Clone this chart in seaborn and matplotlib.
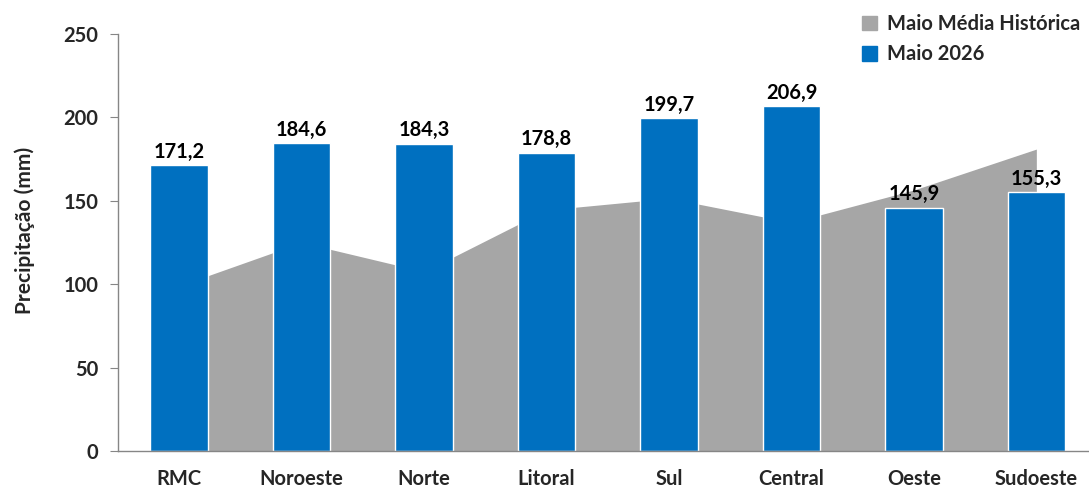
import numpy as np
import pandas as pd
import seaborn as sns
import matplotlib.pyplot as plt
from matplotlib.patches import Patch

# dados
regioes = ['RMC', 'Noroeste', 'Norte', 'Litoral', 'Sul', 'Central', 'Oeste', 'Sudoeste']
maio_2026 = [171.2, 184.6, 184.3, 178.8, 199.7, 206.9, 145.9, 155.3]
media_historica = [99, 125, 107.5, 144.5, 151.5, 137, 156.5, 181]
rotulos = ['171,2', '184,6', '184,3', '178,8', '199,7', '206,9', '145,9', '155,3']

azul = '#0070C0'
cinza = '#A6A6A6'

sns.set_style('white')
plt.rcParams['font.family'] = ['Lato', 'DejaVu Sans']
plt.rcParams['font.weight'] = 'bold'

df = pd.DataFrame({'Regiao': regioes, 'Precipitacao': maio_2026})

fig = plt.figure(figsize=(10.89, 4.91), dpi=100)
ax = fig.add_axes([118 / 1089, 1 - 451 / 491, 1 - 118 / 1089, 417 / 491])

# área da média histórica
x = np.arange(len(regioes))
ax.fill_between(x, media_historica, color=cinza, linewidth=0, zorder=1)

# barras de maio 2026
sns.barplot(data=df, x='Regiao', y='Precipitacao', color=azul, width=0.47,
            saturation=1, ax=ax, zorder=2)

for xi, v, r in zip(x, maio_2026, rotulos):
    ax.text(xi, v + 2, r, ha='center', va='bottom', fontsize=14.5,
            fontweight='bold', color='black')

ax.set_ylim(0, 250)
ax.set_xlim(-0.5, 7.43)
ax.set_yticks([0, 50, 100, 150, 200, 250])
ax.set_xticks(x)
ax.set_xticklabels(regioes, fontsize=14.5, fontweight='bold')
ax.set_xticks(np.arange(0.5, 7.5, 1), minor=True)
ax.tick_params(axis='x', which='major', length=0, pad=13)
ax.tick_params(axis='x', which='minor', length=5, color='#868686', direction='out')
ax.tick_params(axis='y', length=6, color='#868686', labelsize=14.5, pad=8,
               direction='out', left=True)
for t in ax.get_yticklabels():
    t.set_fontweight('bold')
ax.set_xlabel('')
ax.set_ylabel('Precipitação (mm)', fontsize=15, fontweight='bold', labelpad=14)
ax.yaxis.set_label_coords(-0.085, 0.53)

for s in ['top', 'right']:
    ax.spines[s].set_visible(False)
for s in ['left', 'bottom']:
    ax.spines[s].set_color('#868686')
    ax.spines[s].set_linewidth(1)

handles = [Patch(color=cinza, label='Maio Média Histórica'),
           Patch(color=azul, label='Maio 2026')]
leg = fig.legend(handles=handles, loc='upper left', bbox_to_anchor=(848 / 1089, 1.0),
                 frameon=False, prop={'weight': 'bold', 'size': 14.5},
                 handlelength=0.75, handleheight=0.75, handletextpad=0.5,
                 labelspacing=0.5, borderaxespad=0.3)

fig.savefig('out.png', dpi=100)
